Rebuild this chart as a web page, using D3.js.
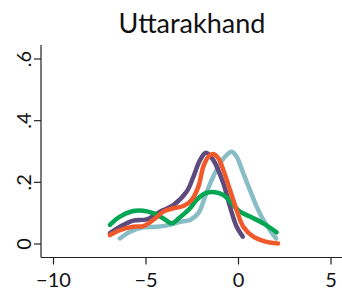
<!DOCTYPE html>
<html>
<head>
<meta charset="utf-8">
<script src="https://cdn.jsdelivr.net/npm/d3@7"></script>
<style>
  body { margin: 0; background: #fff; }
  text { font-family: Lato, "Open Sans", sans-serif; fill: #111; }
</style>
</head>
<body>
<div id="chart"></div>
<script>
// series values (x, density)
const purpleX = [-6.95, -6.41, -5.69, -4.96, -4.24, -3.52, -2.80, -2.44, -2.08, -1.76, -1.36, -0.82, -0.46, -0.10, 0.23];
const purpleY = [0.035, 0.056, 0.076, 0.080, 0.105, 0.126, 0.170, 0.218, 0.272, 0.296, 0.272, 0.197, 0.121, 0.056, 0.024];

const tealX = [-6.41, -5.86, -5.15, -4.42, -3.70, -3.16, -2.62, -2.17, -1.81, -1.45, -1.09, -0.73, -0.37, -0.10, 0.26, 0.62, 0.98, 1.34, 1.70, 2.03];
const tealY = [0.018, 0.040, 0.054, 0.056, 0.062, 0.072, 0.078, 0.100, 0.153, 0.208, 0.251, 0.283, 0.299, 0.283, 0.229, 0.175, 0.121, 0.078, 0.045, 0.018];

const greenX = [-6.95, -6.41, -5.69, -5.15, -4.61, -4.06, -3.61, -3.16, -2.62, -2.26, -1.81, -1.27, -0.82, -0.55, -0.28, 0.08, 0.62, 1.34, 2.06];
const greenY = [0.062, 0.089, 0.107, 0.108, 0.100, 0.083, 0.067, 0.087, 0.116, 0.143, 0.164, 0.168, 0.159, 0.145, 0.126, 0.105, 0.089, 0.067, 0.038];

const orangeX = [-6.95, -6.41, -5.69, -5.15, -4.61, -4.06, -3.52, -2.98, -2.53, -2.17, -1.90, -1.63, -1.36, -1.09, -0.82, -0.46, -0.10, 0.26, 0.80, 1.52, 2.14];
const orangeY = [0.029, 0.045, 0.056, 0.058, 0.078, 0.105, 0.116, 0.123, 0.143, 0.186, 0.251, 0.283, 0.292, 0.278, 0.240, 0.175, 0.110, 0.056, 0.024, 0.007, 0.002];

const xTicks = [-10, -5, 0, 5];
const xTickLabels = ["\u221210", "\u22125", "0", "5"];
const yTicks = [0, 0.2, 0.4, 0.6];
const yTickLabels = ["0", ".2", ".4", ".6"];

const width = 342, height = 294;

let svg = d3.select("#chart").append("svg")
    .attr("width", width)
    .attr("height", height);

// scales
let x = d3.scaleLinear().domain([-10, 5]).range([53.5, 331]);
let y = d3.scaleLinear().domain([0, 0.6]).range([244, 59]);

// title
svg.append("text")
    .attr("x", 192)
    .attr("y", 33)
    .attr("text-anchor", "middle")
    .style("font-size", "27px")
    .text("Uttarakhand");

// y axis
let yAxis = svg.append("g").attr("transform", "translate(41,0)");
yAxis.append("line")
    .attr("x1", 0).attr("x2", 0)
    .attr("y1", 45).attr("y2", 257.5)
    .attr("stroke", "#222").attr("stroke-width", 1.2);
yTicks.forEach((t, i) => {
    yAxis.append("line")
        .attr("x1", -7).attr("x2", 0)
        .attr("y1", y(t)).attr("y2", y(t))
        .attr("stroke", "#222").attr("stroke-width", 1.2);
    yAxis.append("text")
        .attr("transform", "translate(-17," + y(t) + ") rotate(-90)")
        .attr("text-anchor", "middle")
        .attr("dy", "0.36em")
        .style("font-size", "20px")
        .text(yTickLabels[i]);
});

// x axis
let xAxis = svg.append("g").attr("transform", "translate(0,257.5)");
xAxis.append("line")
    .attr("x1", 41).attr("x2", 342)
    .attr("y1", 0).attr("y2", 0)
    .attr("stroke", "#222").attr("stroke-width", 1.2);
xTicks.forEach((t, i) => {
    xAxis.append("line")
        .attr("x1", x(t)).attr("x2", x(t))
        .attr("y1", 0).attr("y2", 7)
        .attr("stroke", "#222").attr("stroke-width", 1.2);
    xAxis.append("text")
        .attr("x", x(t))
        .attr("y", 29.5)
        .attr("text-anchor", "middle")
        .style("font-size", "20px")
        .text(xTickLabels[i]);
});

// lines
let line = d3.line()
    .x(d => x(d[0]))
    .y(d => y(d[1]))
    .curve(d3.curveCatmullRom);

let series = [
    {xs: tealX, ys: tealY, color: "#88bdc5"},
    {xs: purpleX, ys: purpleY, color: "#5d4a7e"},
    {xs: greenX, ys: greenY, color: "#00a651"},
    {xs: orangeX, ys: orangeY, color: "#f1592a"}
];

series.forEach(s => {
    svg.append("path")
        .datum(s.xs.map((v, i) => [v, s.ys[i]]))
        .attr("d", line)
        .attr("fill", "none")
        .attr("stroke", s.color)
        .attr("stroke-width", 4.5)
        .attr("stroke-linecap", "round")
        .attr("stroke-linejoin", "round");
});
</script>
</body>
</html>
